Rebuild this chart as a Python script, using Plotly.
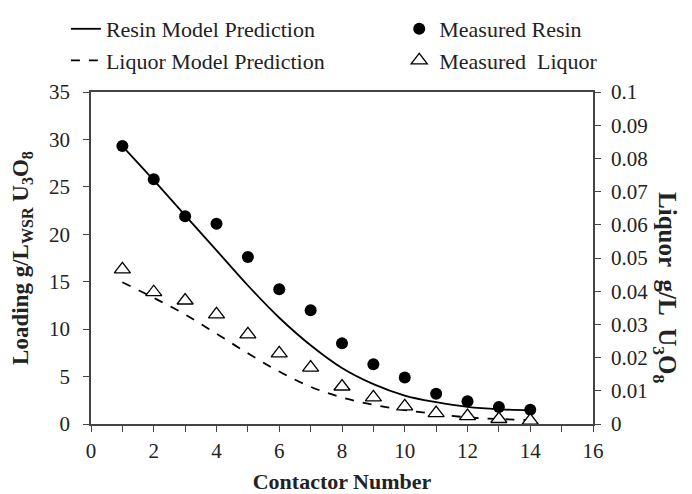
import plotly.graph_objects as go

contactor = list(range(1, 15))
measured_resin = [29.3, 25.8, 21.9, 21.1, 17.6, 14.2, 12.0, 8.5, 6.3, 4.9, 3.2, 2.4, 1.8, 1.5]
measured_liquor = [0.0466, 0.0397, 0.0372, 0.0330, 0.0270, 0.0213, 0.0170, 0.0113, 0.0080, 0.0053, 0.0033, 0.0024, 0.0015, 0.0010]
model_resin = [29.3, 25.7, 22.0, 18.3, 14.6, 11.2, 8.3, 5.9, 4.2, 3.0, 2.3, 1.8, 1.55, 1.45]
model_liquor = [0.0427, 0.0380, 0.0330, 0.0272, 0.0213, 0.0158, 0.0112, 0.0080, 0.0058, 0.0042, 0.0030, 0.0020, 0.0015, 0.0012]
x_ticks = list(range(0, 17, 2))
left_ticks = list(range(0, 36, 5))
right_ticks = [i / 100 for i in range(0, 11)]
right_labels = ["0", "0.01", "0.02", "0.03", "0.04", "0.05", "0.06", "0.07", "0.08", "0.09", "0.1"]

FONT = "Liberation Serif"
AX = "#444444"
TXT = "#222222"
TS = 21
LS = 22

fig = go.Figure()
fig.add_trace(go.Scatter(x=contactor, y=model_resin, mode="lines", name="Resin Model Prediction",
                         line=dict(color="black", width=1.8, shape="spline"),
                         legend="legend", legendgroup="a"))
fig.add_trace(go.Scatter(x=contactor, y=model_liquor, mode="lines", name="Liquor Model Prediction",
                         line=dict(color="black", width=1.8, dash="dash", shape="spline"),
                         yaxis="y2", legend="legend", legendgroup="b"))
fig.add_trace(go.Scatter(x=contactor, y=measured_resin, mode="markers", name="Measured Resin",
                         marker=dict(color="black", size=12, symbol="circle"),
                         legend="legend2", legendgroup="c"))
fig.add_trace(go.Scatter(x=contactor, y=measured_liquor, mode="markers", name="Measured  Liquor",
                         marker=dict(color="white", size=14, symbol="triangle-up",
                                     line=dict(color="black", width=1.3)),
                         yaxis="y2", legend="legend2", legendgroup="d"))

axis_common = dict(showline=True, linecolor=AX, linewidth=1.5, showgrid=False, zeroline=False,
                   ticks="outside", ticklen=6, tickcolor=AX, automargin=False,
                   tickfont=dict(size=TS, family=FONT, color=TXT))

# page body has an 8px default margin, so the figure is 8px smaller and left/top margins offset
fig.update_layout(
    width=684, height=486,
    margin=dict(l=83, r=99, t=84, b=70, autoexpand=False),
    plot_bgcolor="white", paper_bgcolor="white",
    font=dict(family=FONT, size=TS, color=TXT),
    xaxis=dict(range=[0, 16], tickvals=x_ticks, mirror=True,
               minor=dict(dtick=1, ticks="outside", ticklen=6, tickcolor=AX),
               ticklabelstandoff=1,
               title=dict(text="<b>Contactor Number</b>", font=dict(size=22), standoff=17),
               **axis_common),
    yaxis=dict(range=[0, 35], tickvals=left_ticks, ticklabelstandoff=9,
               title=dict(text="<b>Loading g/L<sub>WSR</sub> U<sub>3</sub>O<sub>8</sub></b>",
                          font=dict(size=23), standoff=14),
               **axis_common),
    yaxis2=dict(range=[0, 0.1], tickvals=right_ticks, ticktext=right_labels,
                overlaying="y", side="right", ticklabelstandoff=6, **axis_common),
    showlegend=True,
    legend=dict(x=-0.05, xanchor="left", y=1.005, yanchor="top", xref="paper", yref="container",
                bgcolor="rgba(0,0,0,0)", font=dict(size=LS), tracegroupgap=0, itemwidth=30,
                traceorder="grouped"),
    legend2=dict(x=0.614, xanchor="left", y=1.005, yanchor="top", xref="paper", yref="container",
                 bgcolor="rgba(0,0,0,0)", font=dict(size=LS), tracegroupgap=0, itemwidth=30,
                 traceorder="grouped"),
)

fig.add_annotation(text="<b>Liquor&nbsp; g/L&nbsp; U<sub>3</sub>O<sub>8</sub></b>", textangle=90,
                   xref="paper", yref="paper", x=1.178, y=0.41, showarrow=False,
                   font=dict(size=25, family=FONT, color=TXT))

fig.write_html("out.html")
